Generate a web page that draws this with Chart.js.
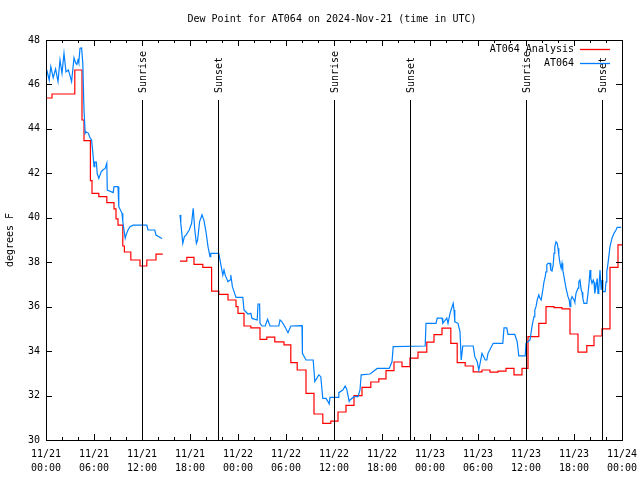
<!DOCTYPE html>
<html>
<head>
<meta charset="utf-8">
<script src="https://cdn.jsdelivr.net/npm/chart.js@4.4.1/dist/chart.umd.min.js"></script>
<style>
html, body { margin: 0; padding: 0; background: #fff; }
canvas { display: block; }
</style>
</head>
<body>
<canvas id="dewChart" width="640" height="480"></canvas>
<script>
// Dew point data, hours since 2024-11-21 00:00 UTC
const analysisHours = [0, 0.75, 3.6, 4.5, 4.75, 5.55, 5.75, 6.6, 7.6, 8.5, 8.75, 9.0, 9.6, 9.8, 10.6, 11.75, 12.6, 13.75, 14.6, 15.5,
    16.75, 17.6, 18.5, 19.6, 20.7, 21.6, 22.75, 23.75, 24.0, 24.75, 25.6, 26.75, 27.6, 28.6, 29.75, 30.6, 31.4, 32.5, 33.5,
    34.6, 35.6, 36.5, 37.5, 38.5, 39.5, 40.6, 41.6, 42.5, 43.5, 44.5, 45.5, 46.5, 47.6, 48.5, 49.5, 50.6, 51.4, 52.4, 53.4,
    54.5, 55.5, 56.5, 57.5, 58.5, 59.5, 60.25, 61.6, 62.5, 63.5, 64.5, 65.5, 66.5, 67.6, 68.5, 69.5, 70.5, 71.5, 72];
const analysisValues = [45.39, 45.57, 46.65, 44.4, 43.47, 41.67, 41.1, 40.95, 40.68, 40.4, 39.95, 39.67, 38.73, 38.46, 38.1, 37.83, 38.1, 38.36, 38.36, null,
    38.05, 38.22, 37.9, 37.77, 36.7, 36.55, 36.3, 36.0, 35.7, 35.13, 35.05, 34.53, 34.63, 34.42, 34.28, 33.48, 33.15, 32.1, 31.17,
    30.75, 30.85, 31.26, 31.56, 32.0, 32.37, 32.61, 32.75, 33.12, 33.51, 33.3, 33.68, 33.95, 34.4, 34.74, 35.03, 34.35, 33.48, 33.33, 33.07,
    33.15, 33.05, 33.1, 33.22, 32.93, 33.22, 34.65, 35.25, 36.0, 35.96, 35.9, 34.77, 33.95, 34.25, 34.68, 35.0, 37.77, 38.78, 38.78];

const stationHours = [0.1, 0.4, 0.6, 0.9, 1.2, 1.5, 1.75, 2.0, 2.25, 2.5, 2.8, 3.0, 3.2, 3.5, 3.7, 3.85, 4.0, 4.1, 4.25, 4.45, 4.6, 4.75, 4.9,
    5.0, 5.3, 5.5, 5.7, 5.9, 6.0, 6.1, 6.3, 6.4, 6.6, 6.9, 7.1, 7.4, 7.6, 7.66, 8.4, 8.5, 9.0, 9.1, 9.5, 9.6, 9.75, 9.9, 10.0, 10.25,
    10.5, 10.9, 12.6, 12.75, 13.6, 13.75, 14.5, 15.5,
    16.75, 16.85, 17.1, 17.3, 17.5, 17.9, 18.2, 18.4, 18.6, 18.8, 18.95, 19.2, 19.5, 19.75, 20.0, 20.25, 20.5, 20.6, 21.6, 22.1, 22.25,
    22.4, 22.75, 23.0, 23.1, 23.3, 23.75, 24.6, 24.75, 25.25, 25.6, 25.75, 26.4, 26.5, 26.7, 26.75, 27.0, 27.4, 27.7, 28.0, 29.1, 29.25,
    29.5, 29.9, 30.25, 30.6, 32.0, 32.05, 32.5, 33.4, 33.6, 33.85, 34.1, 34.35, 34.6, 35.0, 35.25, 35.4, 35.5, 36.5, 36.6, 37.1, 37.4,
    37.6, 37.9, 38.0, 38.5, 39.0, 39.25, 39.4, 40.5, 41.4, 42.9, 43.25, 43.4, 47.4, 47.5, 48.75, 48.9, 49.5, 49.6, 50.1, 50.25, 50.5,
    50.9, 51.0, 51.1, 51.5, 51.75, 51.9, 52.1, 53.4, 53.6, 53.9, 54.1, 54.5, 54.9, 55.1, 55.25, 55.9, 57.1, 57.25, 57.6, 57.75, 58.6,
    58.9, 59.1, 59.9, 60.0, 60.5, 60.75, 60.9, 61.0, 61.1, 61.25, 61.4, 61.6, 61.75, 61.9, 62.1, 62.25, 62.4, 62.5, 62.6, 62.75, 63.0,
    63.1, 63.25, 63.4, 63.5, 63.6, 63.75, 63.9, 64.0, 64.1, 64.25, 64.4, 64.5, 64.6, 64.9, 65.0, 65.25, 65.4, 65.5, 65.6, 65.75, 66.0,
    66.1, 66.25, 66.5, 66.6, 66.75, 66.9, 67.0, 67.1, 67.25, 67.6, 67.75, 67.9, 68.0, 68.1, 68.25, 68.4, 68.5, 68.6, 68.75, 68.9, 69.0,
    69.1, 69.25, 69.4, 69.5, 69.6, 69.9, 70.0, 70.1, 70.25, 70.4, 70.5, 70.75, 71.0, 71.25, 71.4, 71.9];
const stationValues = [46.65, 46.2, 46.8, 46.3, 46.7, 46.13, 47.1, 46.5, 47.4, 46.57, 46.65, 46.4, 46.13, 47.2, 46.97, 46.9, 47.1, 46.97, 47.63, 47.64, 46.95, 44.85, 43.8,
    43.87, 43.8, 43.6, 43.5, 42.75, 42.3, 42.5, 42.5, 42.0, 41.77, 42.07, 42.15, 42.22, 42.45, 41.25, 41.13, 41.4, 41.4, 40.5, 40.2, 39.83, 39.45, 39.08, 39.22, 39.45,
    39.6, 39.67, 39.67, 39.45, 39.45, 39.22, 39.07, null,
    40.13, 39.75, 38.85, 39.15, 39.22, 39.45, 39.75, 40.43, 39.45, 38.85, 39.0, 39.83, 40.13, 39.87, 39.37, 38.7, 38.25, 38.4, 38.4, 37.42, 37.65,
    37.42, 37.12, 37.2, 37.42, 36.9, 36.42, 36.42, 35.85, 35.67, 35.7, 35.47, 35.4, 36.12, 36.12, 35.25, 35.13, 35.13, 35.43, 35.13, 35.13, 35.4,
    35.32, 35.07, 34.83, 35.13, 35.15, 33.9, 33.6, 33.6, 32.63, 32.78, 32.93, 32.85, 31.87, 31.87, 31.73, 31.62, 31.92, 31.92, 32.13, 32.25, 32.43,
    32.28, 31.73, 31.8, 31.95, 31.95, 32.25, 32.93, 32.97, 33.22, 33.22, 33.52, 34.2, 34.23, 35.25, 35.25, 35.48, 35.48, 35.25, 35.48, 35.25, 35.7,
    36.15, 35.85, 35.32, 35.25, 34.87, 33.6, 34.23, 34.23, 33.75, 33.52, 33.15, 33.9, 33.6, 33.6, 33.9, 34.35, 34.35, 35.05, 35.05, 34.75, 34.75,
    34.42, 33.79, 33.79, 34.35, 34.5, 35.1, 35.4, 35.55, 35.85, 36.0, 36.3, 36.53, 36.38, 36.3, 36.75, 37.12, 37.35, 37.57, 37.88, 37.95, 37.95,
    37.65, 37.6, 37.88, 38.4, 38.7, 38.92, 38.85, 38.63, 38.33, 37.95, 37.72, 37.95, 37.65, 37.05, 36.83, 36.45, 36.3, 36.0, 36.3, 36.45, 36.3,
    36.2, 36.6, 36.83, 37.12, 37.2, 36.75, 36.65, 36.38, 36.15, 36.15, 36.6, 37.12, 37.65, 37.27, 37.05, 37.2, 37.1, 36.6, 36.9, 37.27, 36.6,
    36.75, 37.65, 36.75, 37.2, 36.68, 36.68, 37.12, 37.57, 37.95, 38.4, 38.7, 39.08, 39.3, 39.45, 39.57, 39.57];

// sunrise / sunset markers
const eventHours = [12, 21.5, 36, 45.5, 60, 69.5];
const eventNames = ['Sunrise', 'Sunset', 'Sunrise', 'Sunset', 'Sunrise', 'Sunset'];

// x tick labels (every 6 hours)
const xTickDates = ['11/21', '11/21', '11/21', '11/21', '11/22', '11/22', '11/22', '11/22', '11/23', '11/23', '11/23', '11/23', '11/24'];
const xTickTimes = ['00:00', '06:00', '12:00', '18:00', '00:00', '06:00', '12:00', '18:00', '00:00', '06:00', '12:00', '18:00', '00:00'];

const FONT = "'DejaVu Sans Mono', monospace";
const RED = '#ff0000';
const BLUE = '#0080ff';

function toPoints(xs, ys) {
    return xs.map((h, i) => ({ x: h, y: ys[i] }));
}

// gnuplot-like frame, inward ticks, markers, legend and titles
const gnuFrame = {
    id: 'gnuFrame',
    afterDraw(chart) {
        const { ctx, chartArea: a, scales: { x, y } } = chart;
        ctx.save();
        ctx.strokeStyle = '#000';
        ctx.lineWidth = 1;

        // ticks
        ctx.beginPath();
        for (let h = x.min; h <= x.max; h += 2) {
            const px = Math.round(x.getPixelForValue(h)) + 0.5;
            const len = h % 6 === 0 ? 6 : 3;
            ctx.moveTo(px, a.bottom); ctx.lineTo(px, a.bottom - len);
            ctx.moveTo(px, a.top); ctx.lineTo(px, a.top + len);
        }
        y.ticks.forEach(t => {
            const py = Math.round(y.getPixelForValue(t.value)) + 0.5;
            ctx.moveTo(a.left, py); ctx.lineTo(a.left + 6, py);
            ctx.moveTo(a.right, py); ctx.lineTo(a.right - 6, py);
        });
        ctx.stroke();

        // sunrise / sunset lines
        ctx.fillStyle = '#000';
        ctx.font = '10px ' + FONT;
        eventHours.forEach((h, i) => {
            const px = Math.round(x.getPixelForValue(h)) + 0.5;
            ctx.beginPath();
            ctx.moveTo(px, 100);
            ctx.lineTo(px, a.bottom);
            ctx.stroke();
            ctx.save();
            ctx.translate(px + 1, 93);
            ctx.rotate(-Math.PI / 2);
            ctx.textAlign = 'left';
            ctx.textBaseline = 'middle';
            ctx.fillText(eventNames[i], 0, 0);
            ctx.restore();
        });

        // frame
        ctx.strokeRect(a.left + 0.5, a.top + 0.5, a.right - a.left, a.bottom - a.top);

        // legend
        const legendColors = [RED, BLUE];
        ctx.textAlign = 'right';
        ctx.textBaseline = 'middle';
        chart.data.datasets.forEach((ds, i) => {
            const ly = 49 + i * 14;
            ctx.fillStyle = '#000';
            ctx.fillText(ds.label, 574, ly);
            ctx.strokeStyle = legendColors[i];
            ctx.lineWidth = 1.3;
            ctx.beginPath();
            ctx.moveTo(580, ly + 0.5);
            ctx.lineTo(610, ly + 0.5);
            ctx.stroke();
        });

        // titles
        ctx.fillStyle = '#000';
        ctx.textAlign = 'center';
        ctx.fillText('Dew Point for AT064 on 2024-Nov-21 (time in UTC)', 332, 19);
        ctx.save();
        ctx.translate(10, (a.top + a.bottom) / 2);
        ctx.rotate(-Math.PI / 2);
        ctx.fillText('degrees F', 0, 0);
        ctx.restore();

        ctx.restore();
    }
};

const ctx = document.getElementById('dewChart').getContext('2d');
const dewChart = new Chart(ctx, {
    type: 'line',
    data: {
        datasets: [{
            label: 'AT064 Analysis',
            data: toPoints(analysisHours, analysisValues),
            borderColor: RED,
            borderWidth: 1.2,
            stepped: 'before',
            pointRadius: 0,
            spanGaps: false,
            order: 2
        }, {
            label: 'AT064',
            data: toPoints(stationHours, stationValues),
            borderColor: BLUE,
            borderWidth: 1.2,
            tension: 0,
            pointRadius: 0,
            spanGaps: false,
            order: 1
        }]
    },
    options: {
        responsive: false,
        animation: false,
        layout: { padding: { left: 0, right: 18, top: 40, bottom: 0 } },
        plugins: {
            legend: { display: false },
            tooltip: { enabled: false }
        },
        scales: {
            x: {
                type: 'linear',
                min: 0,
                max: 72,
                grid: { display: false, drawTicks: false },
                border: { display: false },
                afterFit: s => { s.height = 40; s.paddingLeft = 0; s.paddingRight = 0; },
                ticks: {
                    stepSize: 6,
                    autoSkip: false,
                    maxRotation: 0,
                    padding: 7,
                    color: '#000',
                    font: { family: FONT, size: 10, lineHeight: 1.4 },
                    callback: (v, i) => [xTickDates[i], xTickTimes[i]]
                }
            },
            y: {
                min: 30,
                max: 48,
                grid: { display: false, drawTicks: false },
                border: { display: false },
                afterFit: s => { s.width = 46; s.paddingTop = 0; s.paddingBottom = 0; },
                ticks: {
                    stepSize: 2,
                    padding: 6,
                    color: '#000',
                    font: { family: FONT, size: 10 }
                }
            }
        }
    },
    plugins: [gnuFrame]
});
</script>
</body>
</html>
